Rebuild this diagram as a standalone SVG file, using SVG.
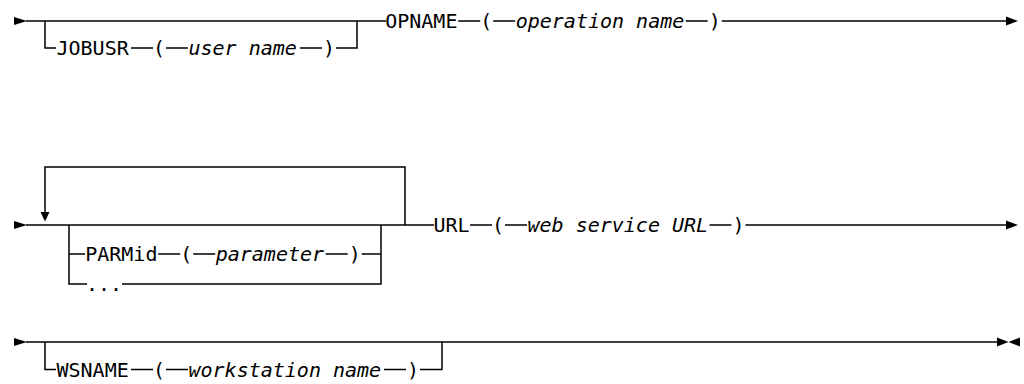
<svg xmlns="http://www.w3.org/2000/svg" width="1024" height="384" viewBox="0 0 1024 384">
<style>
.l{stroke:#000;stroke-width:1.5;fill:none}
.t{font-family:"DejaVu Sans Mono",monospace;font-size:20px;fill:#000}
.i{font-style:italic}
.a{fill:#000}
</style>
<rect width="1024" height="384" fill="#fff"/>
<g id="connectors">
<!-- row 1 -->
<path class="l" d="M26 21H386"/>
<path class="l" d="M45 21V48H56 M131 48H153 M166 48H188 M300 48H322 M336 48H357V21"/>
<path class="l" d="M458.2 21H480.2 M493.2 21H515.2 M685.7 21H707.7 M721.7 21H1008"/>
<!-- row 2 -->
<path class="l" d="M26 225H434"/>
<path class="l" d="M405 225V167H45V213"/>
<path class="l" d="M69 225V284H87 M122 284H381V225"/>
<path class="l" d="M69 254H85 M158.2 254H180.2 M193.2 254H215.2 M325.7 254H347.7 M361.7 254H381"/>
<path class="l" d="M470 225H492 M505 225H527 M709.5 225H731.5 M745.5 225H1008"/>
<!-- row 3 -->
<path class="l" d="M26 342H998"/>
<path class="l" d="M45 342V369.5H56 M131 369.5H153 M166 369.5H188 M384 369.5H406 M420 369.5H442V342"/>
</g>
<g id="arrows">
<polygon class="a" points="14,17 27,21 14,25"/>
<polygon class="a" points="1006,16.5 1018,21 1006,25.5"/>
<polygon class="a" points="14,221 27,225 14,229"/>
<polygon class="a" points="40.5,212 49.5,212 45,221.5"/>
<polygon class="a" points="1006,220.5 1018,225 1006,229.5"/>
<polygon class="a" points="14,338 27,342 14,346"/>
<polygon class="a" points="997,337.5 1008.5,342 997,346.5"/>
<polygon class="a" points="1020,337.5 1008.5,342 1020,346.5"/>
</g>
<g id="jobusr">
<text class="t" x="56.5" y="55">JOBUSR</text>
<text class="t" x="153" y="55">(</text>
<text class="t i" x="188.5" y="55">user name</text>
<text class="t" x="323" y="55">)</text>
</g>
<g id="opname">
<text class="t" x="385.2" y="28">OPNAME</text>
<text class="t" x="480.2" y="28">(</text>
<text class="t i" x="515.7" y="28">operation name</text>
<text class="t" x="708.7" y="28">)</text>
</g>
<g id="parmid">
<text class="t" x="85.2" y="261">PARMid</text>
<text class="t" x="180.2" y="261">(</text>
<text class="t i" x="215.7" y="261">parameter</text>
<text class="t" x="348.7" y="261">)</text>
</g>
<g id="ellipsis">
<text class="t" x="86" y="291">...</text>
</g>
<g id="url">
<text class="t" x="433.5" y="232">URL</text>
<text class="t" x="492" y="232">(</text>
<text class="t i" x="527.5" y="232">web service URL</text>
<text class="t" x="732.5" y="232">)</text>
</g>
<g id="wsname">
<text class="t" x="56.5" y="376.5">WSNAME</text>
<text class="t" x="153" y="376.5">(</text>
<text class="t i" x="188.5" y="376.5">workstation name</text>
<text class="t" x="407" y="376.5">)</text>
</g>
</svg>
